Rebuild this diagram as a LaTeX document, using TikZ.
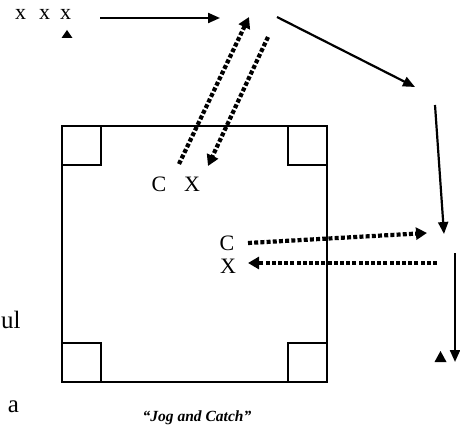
\documentclass[tikz,border=0pt]{standalone}
\usepackage{fontspec}
\setmainfont{Liberation Serif}
\usetikzlibrary{arrows.meta}

\tikzset{
  field/.style={line width=1.8pt},
  run/.style={line width=2.2pt, -{Triangle[length=12pt,width=10pt]}},
  throw/.style={line width=4.2pt, dash pattern=on 4pt off 2.2pt, -{Triangle[length=11pt,width=12pt]}},
  player/.style={inner sep=0pt, font=\fontsize{22}{24}\selectfont},
  cone/.style={fill=black}
}

\begin{document}
\begin{tikzpicture}[x=1pt,y=-1pt]
    \useasboundingbox (0,0) rectangle (460,430);

    % grid and corner boxes
    \draw[field] (62,126) rectangle (327,382);
    \foreach \cx/\cy in {62/126, 288/126, 62/343, 288/343}
        \draw[field] (\cx,\cy) rectangle ++(39,39);

    % line of players
    \node[player] (x1) at (20.5,14) {x};
    \node[player] (x2) at (44.5,14) {x};
    \node[player] (x3) at (65.5,14) {x};
    \fill[cone] (67,30) -- (61.5,38) -- (72.5,38) -- cycle;
    \fill[cone] (440.5,351) -- (434.5,362) -- (446.5,362) -- cycle;

    % catchers and throwers
    \node[player] (c1) at (159,184) {C};
    \node[player] (t1) at (192,184) {X};
    \node[player] (c2) at (227,243) {C};
    \node[player] (t2) at (228,266) {X};

    % text at the left
    \node[inner sep=0pt, anchor=base west, font=\fontsize{25}{28}\selectfont] (ul) at (1,328) {ul};
    \node[inner sep=0pt, anchor=base, font=\fontsize{25}{28}\selectfont] (a) at (13.5,412) {a};

    % jog path
    \coordinate (jog0) at (100,18);
    \coordinate (jog1) at (220,18);
    \coordinate (jog2) at (277,17);
    \coordinate (jog3) at (415,87);
    \coordinate (jog4) at (435,105);
    \coordinate (jog5) at (444,234);
    \coordinate (jog6) at (455,253);
    \coordinate (jog7) at (455,362);
    \draw[run] (jog0) -- (jog1);
    \draw[run] (jog2) -- (jog3);
    \draw[run] (jog4) -- (jog5);
    \draw[run] (jog6) -- (jog7);

    % passes
    \coordinate (p1) at (249,17);
    \coordinate (p2) at (268,37);
    \coordinate (p3) at (427,233);
    \coordinate (p4) at (437,263);
    \draw[throw] (179,164) -- (p1);
    \draw[throw] (p2) -- (208,166);
    \draw[throw] (248,243) -- (p3);
    \draw[throw] (p4) -- (248,263);

    \node[inner sep=0pt, font=\fontsize{15.5}{17}\selectfont\bfseries\itshape] (title) at (197,418) {“Jog and Catch”};
\end{tikzpicture}
\end{document}
